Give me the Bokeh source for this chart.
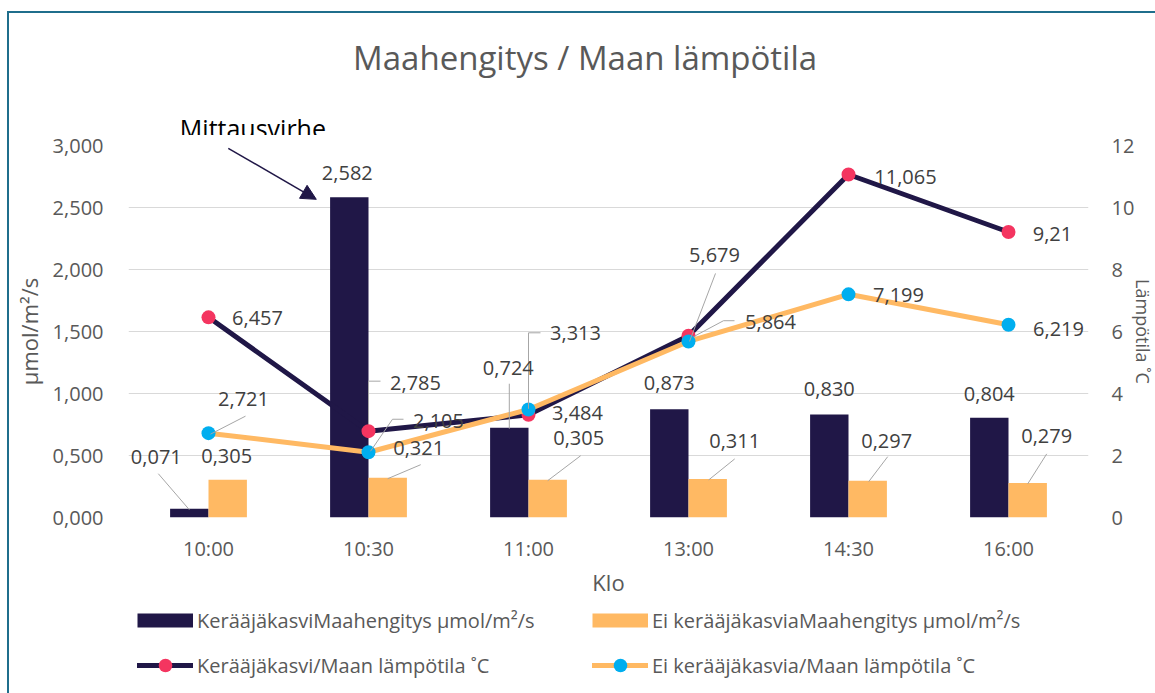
from bokeh.plotting import figure
from bokeh.layouts import column
from bokeh.models import (Range1d, LinearAxis, FixedTicker, Label, Arrow, NormalHead,
                          Legend, LegendItem)
from bokeh.embed import file_html
from bokeh.resources import INLINE
from bokeh.core.properties import value

# ---------------- data ----------------
categories = ["10:00", "10:30", "11:00", "13:00", "14:30", "16:00"]
resp_cover = [0.071, 2.582, 0.724, 0.873, 0.830, 0.804]      # Kerääjäkasvi, µmol/m²/s
resp_nocover = [0.305, 0.321, 0.305, 0.311, 0.297, 0.279]    # Ei kerääjäkasvia, µmol/m²/s
temp_cover = [6.457, 2.785, 3.313, 5.864, 11.065, 9.21]      # Kerääjäkasvi, °C
temp_nocover = [2.721, 2.105, 3.484, 5.679, 7.199, 6.219]    # Ei kerääjäkasvia, °C
left_ticks = [0, 0.5, 1.0, 1.5, 2.0, 2.5, 3.0]
left_tick_labels = ["0,000", "0,500", "1,000", "1,500", "2,000", "2,500", "3,000"]
right_ticks = [0, 2, 4, 6, 8, 10, 12]

title_text = "Maahengitys / Maan lämpötila"
left_title = "µmol/m²/s"
right_title = "Lämpötila ˚C"
x_title = "Klo"
note_text = "Mittausvirhe"
names = ["KerääjäkasviMaahengitys µmol/m²/s", "Ei kerääjäkasviaMaahengitys µmol/m²/s",
         "Kerääjäkasvi/Maan lämpötila ˚C", "Ei kerääjäkasvia/Maan lämpötila ˚C"]

# ---------------- style ----------------
NAVY = "#201747"
ORANGE = "#FFB963"
PINK = "#F43560"
CYAN = "#00AEEF"
TXT = "#595959"
LAB = "#404040"
LEAD = "#A6A6A6"
GRID = "#D9D9D9"
FONT = "Open Sans"
FRAME_COL = "#1F6E8C"
NAN = float("nan")

W = 1155
FL = 128            # frame left (px)
FW = 960            # frame width (px)
FR = W - FL - FW    # right border
FH = 372            # plot frame height (0..3 on the left axis)
TOP_PAD = 10        # room above the frame for the top tick labels
TOP_H = 145 - TOP_PAD   # title strip above the plot
BOTTOM = 86         # x-axis panel
LEG_H = 693 - TOP_H - TOP_PAD - FH - BOTTOM
Y_MAX, T_MAX = 3.0, 12.0
KX = len(categories) / FW
KY = Y_MAX / FH
BAR_W = 0.24
BAR_SHIFT = 0.12

# label offsets (px: right, up) relative to each point / bar top
off_nav_bar = [(-33, 52), (-2, 24), (-1, 60), (0, 26), (0, 26), (0, 24)]
off_org_bar = [(-1, 24), (31, 30), (31, 42), (27, 38), (19, 40), (19, 47)]
off_nav_line = [(49, -1), (47, 48), (47, 82), (82, 14), (57, -3), (44, -2)]
off_org_line = [(35, 34), (70, 31), (49, -4), (26, 86), (50, -1), (50, -4)]
lead_nav_bar = {0: [(-31, 35), (0, -1)], 2: [(0, 44), (0, -1)]}
lead_org_bar = {1: [(0, -1), (33, 13)], 2: [(0, -1), (33, 24)], 3: [(1, -1), (27, 20)],
                4: [(1, -1), (20, 24)], 5: [(0, -1), (19, 29)]}
lead_nav_line = {1: [(0, 7), (0, 50), (12, 50)], 2: [(0, 6), (0, 82), (12, 82)],
                 3: [(5, -1), (35, 15), (46, 15)]}
lead_org_line = {0: [(2, -1), (37, 17)], 1: [(2, 1), (24, 33), (35, 33)], 3: [(1, 0), (27, 68)]}


def strip(height, **kw):
    f = figure(width=W, height=height, output_backend="svg", toolbar_location=None,
               x_axis_location=None, y_axis_location=None,
               min_border_left=FL, min_border_right=FR, min_border_top=0, min_border_bottom=0,
               background_fill_alpha=0, border_fill_alpha=0, outline_line_color=None, **kw)
    f.grid.visible = False
    return f


# ---------------- main chart ----------------
p = figure(frame_width=FW, frame_height=FH,
           x_range=Range1d(0, len(categories)), y_range=Range1d(0, Y_MAX),
           output_backend="svg", toolbar_location=None,
           min_border_left=FL, min_border_right=FR, min_border_top=TOP_PAD,
           min_border_bottom=BOTTOM,
           background_fill_alpha=0, border_fill_alpha=0, outline_line_color=None)
p.styles = {"box-shadow": "inset 7px 0 0 0 #ffffff, inset 9px 0 0 0 " + FRAME_COL}
p.extra_y_ranges = {"temp": Range1d(0, T_MAX)}

xc = [i + 0.5 for i in range(len(categories))]
x_nav = [x - BAR_SHIFT for x in xc]
x_org = [x + BAR_SHIFT for x in xc]

p.vbar(x=x_nav, top=resp_cover, bottom=0, width=BAR_W, fill_color=NAVY, line_color=None)
p.vbar(x=x_org, top=resp_nocover, bottom=0, width=BAR_W, fill_color=ORANGE, line_color=None)

p.line(xc, temp_cover, y_range_name="temp", line_color=NAVY, line_width=5,
       line_join="round", line_cap="round")
p.scatter(xc, temp_cover, y_range_name="temp", size=14, fill_color=PINK, line_color=None)
p.line(xc, temp_nocover, y_range_name="temp", line_color=ORANGE, line_width=5,
       line_join="round", line_cap="round")
p.scatter(xc, temp_nocover, y_range_name="temp", size=14, fill_color=CYAN, line_color=None)

# anchors in left-axis units
t2l = Y_MAX / T_MAX
anchors = [
    (x_nav, list(resp_cover), ["{:.3f}".format(v).replace(".", ",") for v in resp_cover], off_nav_bar, lead_nav_bar),
    (x_org, list(resp_nocover), ["{:.3f}".format(v).replace(".", ",") for v in resp_nocover], off_org_bar, lead_org_bar),
    (xc, [t * t2l for t in temp_cover], [str(v).replace(".", ",") for v in temp_cover], off_nav_line, lead_nav_line),
    (xc, [t * t2l for t in temp_nocover], [str(v).replace(".", ",") for v in temp_nocover], off_org_line, lead_org_line),
]

lx, ly, lt = [], [], []
mxs, mys = [], []
for xs, ys, texts, offs, leads in anchors:
    for i, (x, y, t, (dx, dy)) in enumerate(zip(xs, ys, texts, offs)):
        lx.append(x + dx * KX)
        ly.append(y + dy * KY)
        lt.append(t)
        if i in leads:
            mxs.append([x + a * KX for a, b in leads[i]])
            mys.append([y + b * KY for a, b in leads[i]])

p.multi_line(mxs, mys, line_color=LEAD, line_width=1)
p.text(x=lx, y=ly, text=lt, text_font=value(FONT), text_font_size="20px", text_color=LAB,
       text_align="center", text_baseline="middle")

p.add_layout(Arrow(end=NormalHead(size=15, fill_color=NAVY, line_color=NAVY),
                   x_start=x_nav[1] - 121 * KX, y_start=resp_cover[1] + 49 * KY,
                   x_end=x_nav[1] - 33 * KX, y_end=resp_cover[1] - 2 * KY,
                   line_color=NAVY, line_width=1.5))

# axes
p.xaxis.ticker = FixedTicker(ticks=xc)
p.xaxis.major_label_overrides = {x: c for x, c in zip(xc, categories)}
p.xaxis.axis_label = x_title
p.yaxis.ticker = FixedTicker(ticks=left_ticks)
p.yaxis.major_label_overrides = dict(zip(left_ticks, left_tick_labels))
p.yaxis.axis_label = left_title
raxis = LinearAxis(y_range_name="temp", ticker=FixedTicker(ticks=right_ticks), axis_label=right_title)
p.add_layout(raxis, "right")

for ax in [p.xaxis[0], p.yaxis[0], raxis]:
    ax.axis_line_color = None
    ax.major_tick_line_color = None
    ax.minor_tick_line_color = None
    ax.major_tick_out = 0
    ax.major_tick_in = 0
    ax.minor_tick_out = 0
    ax.minor_tick_in = 0
    ax.major_label_text_font = FONT
    ax.major_label_text_font_size = "20px"
    ax.major_label_text_color = TXT
    ax.axis_label_text_font = FONT
    ax.axis_label_text_font_style = "normal"
    ax.axis_label_text_color = TXT
p.xaxis.major_label_standoff = 17
p.xaxis.axis_label_standoff = 2
p.xaxis.axis_label_text_font_size = "22px"
p.yaxis.major_label_standoff = 25
p.yaxis.axis_label_standoff = 6
p.yaxis.axis_label_text_font_size = "22px"
raxis.major_label_standoff = 23
raxis.axis_label_standoff = -6
raxis.axis_label_text_font_size = "18px"

p.xgrid.grid_line_color = None
p.ygrid.ticker = FixedTicker(ticks=left_ticks)
p.ygrid.grid_line_color = GRID
p.ygrid.grid_line_width = 1

# ---------------- title strip (continues the left axis above the plot) ----------------
pt = strip(TOP_H, x_range=p.x_range,
           y_range=Range1d(Y_MAX + TOP_PAD * KY, Y_MAX + (TOP_PAD + TOP_H) * KY))
pt.styles = {"box-shadow": "inset 7px 11px 0 0 #ffffff, inset 9px 13px 0 0 " + FRAME_COL}
pt.add_layout(Label(x=458 * KX, y=460 * KY, text=title_text, text_font=FONT,
                    text_font_size="33px", text_color=TXT, text_align="center",
                    text_baseline="middle"))
pt.add_layout(Label(x=x_nav[1] - 96 * KX, y=resp_cover[1] + 69 * KY, text=note_text,
                    text_font=FONT, text_font_size="25px", text_color="#000000",
                    text_align="center", text_baseline="middle"))

# ---------------- legend strip ----------------
pl = strip(LEG_H, x_range=Range1d(0, 1), y_range=Range1d(0, 1))
pl.styles = {"box-shadow": "inset 7px 0 0 0 #ffffff, inset 9px 0 0 0 " + FRAME_COL}
# legend-only renderers (no visible marks: NaN data)
lg_bar_nav = pl.line([NAN], [NAN], line_color=NAVY, line_width=14)
lg_bar_org = pl.line([NAN], [NAN], line_color=ORANGE, line_width=14)
lg_line_nav = pl.line([NAN], [NAN], line_color=NAVY, line_width=5, line_cap="round")
lg_pts_nav = pl.scatter([NAN], [NAN], fill_color=PINK, line_color=None)
lg_line_org = pl.line([NAN], [NAN], line_color=ORANGE, line_width=5, line_cap="round")
lg_pts_org = pl.scatter([NAN], [NAN], fill_color=CYAN, line_color=None)
legend = Legend(items=[LegendItem(label=names[0], renderers=[lg_bar_nav]),
                       LegendItem(label=names[1], renderers=[lg_bar_org]),
                       LegendItem(label=names[2], renderers=[lg_line_nav, lg_pts_nav]),
                       LegendItem(label=names[3], renderers=[lg_line_org, lg_pts_org])],
                location=(137 - FL, LEG_H - 79), orientation="horizontal", ncols=2,
                glyph_width=56, glyph_height=34, spacing=11, label_standoff=4, label_width=384,
                padding=0, margin=0, border_line_color=None, background_fill_alpha=0,
                label_text_font=FONT, label_text_font_size="20px", label_text_color=TXT)
pl.add_layout(legend)

layout = column(pt, p, pl, spacing=0)
open("out.html", "w").write(file_html(layout, INLINE))
